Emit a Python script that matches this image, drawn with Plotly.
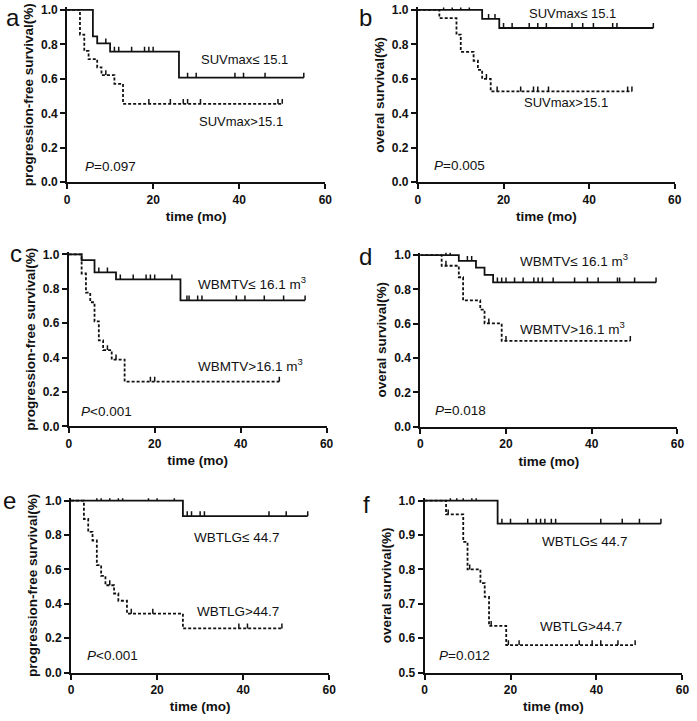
import plotly.graph_objects as go

W, H = 697, 721

# ---------------- data ----------------
time_ticks = [0, 20, 40, 60]
surv_ticks_full = [0.0, 0.2, 0.4, 0.6, 0.8, 1.0]
surv_ticks_f = [0.5, 0.6, 0.7, 0.8, 0.9, 1.0]

# panel a: PFS by SUVmax
a_low_t = [6, 7, 10, 26]
a_low_s = [0.846, 0.806, 0.758, 0.607]
a_low_cens = [9, 11, 12, 15, 18, 19, 20, 28, 30, 39, 41, 46, 55]
a_low_end = 55
a_high_t = [3, 4, 5, 7, 8, 11, 13]
a_high_s = [0.857, 0.762, 0.714, 0.667, 0.622, 0.571, 0.455]
a_high_cens = [9, 19, 24, 27, 28, 31, 49, 50]
a_high_end = 50

# panel b: OS by SUVmax
b_low_t = [15, 19]
b_low_s = [0.948, 0.895]
b_low_cens = [6, 8, 10, 12, 16.5, 18, 20, 22, 26, 28, 30, 36, 38.5, 41, 45.5, 46.5, 55]
b_low_end = 55
b_high_t = [5, 9, 10, 13, 14, 15, 17]
b_high_s = [0.952, 0.857, 0.757, 0.705, 0.652, 0.600, 0.527]
b_high_cens = [16, 18.5, 24, 27, 28, 30.5, 49, 50]
b_high_end = 50

# panel c: PFS by WBMTV
c_low_t = [3, 6, 11, 26]
c_low_s = [0.967, 0.896, 0.855, 0.733]
c_low_cens = [7, 9, 12, 15, 18, 19, 20, 24, 27.5, 28, 30, 31, 39, 41, 45.5, 50, 55]
c_low_end = 55
c_high_t = [3, 4, 5, 6, 7, 8, 10, 13]
c_high_s = [0.889, 0.778, 0.722, 0.611, 0.500, 0.444, 0.389, 0.261]
c_high_cens = [9, 11, 19, 20, 49]
c_high_end = 49

# panel d: OS by WBMTV
d_low_t = [9, 13, 15, 17]
d_low_s = [0.966, 0.927, 0.885, 0.841]
d_low_cens = [6, 7, 11, 12, 18, 19, 20, 22, 24, 26.5, 27.5, 28.5, 31, 36, 39, 41.5, 46, 46.5, 50, 55]
d_low_end = 55
d_high_t = [5, 9, 10, 14, 15, 19]
d_high_s = [0.938, 0.871, 0.736, 0.682, 0.602, 0.500]
d_high_cens = [6, 16, 20, 49]
d_high_end = 49

# panel e: PFS by WBTLG
e_low_t = [26]
e_low_s = [0.910]
e_low_cens = [6, 7, 9, 11, 12, 18, 20, 24, 27, 28, 30, 31, 46, 50, 55]
e_low_end = 55
e_high_t = [3, 4, 5, 6, 7, 8, 10, 11, 13, 26]
e_high_s = [0.893, 0.818, 0.768, 0.625, 0.563, 0.508, 0.460, 0.418, 0.343, 0.257]
e_high_cens = [9, 14, 19, 39, 41, 49]
e_high_end = 49

# panel f: OS by WBTLG
f_low_t = [17]
f_low_s = [0.933]
f_low_cens = [6, 7.5, 9, 11, 12, 18, 20, 24, 26, 27, 28, 29.5, 30.5, 41, 46, 50, 55]
f_low_end = 55
f_high_t = [5, 9, 10, 13, 14, 15, 19]
f_high_s = [0.960, 0.880, 0.800, 0.760, 0.720, 0.636, 0.580]
f_high_cens = [5.5, 10.5, 15.5, 19.5, 22, 36, 39, 41, 45, 49]
f_high_end = 49

# ---------------- styling / layout ----------------
FONT = "Arial, 'Liberation Sans', Helvetica, sans-serif"
INK = "#111111"

panels = [
    dict(letter="a", px=(65, 327, 6, 181), yr=(0.0, 1.0), yt=surv_ticks_full,
         ytitle="progression-free survival(%)",
         low=(a_low_t, a_low_s, a_low_cens, a_low_end),
         high=(a_high_t, a_high_s, a_high_cens, a_high_end),
         letter_pos=(10, 14),
         labels=[("SUVmax≤ 15.1", 199, 56, 13), ("SUVmax>15.1", 197, 119, 13),
                 ("<i>P</i>=0.097", 81, 165, 13.5)]),
    dict(letter="b", px=(421, 681.5, 6, 181), yr=(0.0, 1.0), yt=surv_ticks_full,
         ytitle="overal survival(%)",
         low=(b_low_t, b_low_s, b_low_cens, b_low_end),
         high=(b_high_t, b_high_s, b_high_cens, b_high_end),
         letter_pos=(368, 14),
         labels=[("SUVmax≤ 15.1", 532, 9.5, 13), ("SUVmax>15.1", 527, 100, 13),
                 ("<i>P</i>=0.005", 435, 164, 13.5)]),
    dict(letter="c", px=(66.7, 328.3, 254.3, 429), yr=(0.0, 1.0), yt=surv_ticks_full,
         ytitle="progression-free survival(%)",
         low=(c_low_t, c_low_s, c_low_cens, c_low_end),
         high=(c_high_t, c_high_s, c_high_cens, c_high_end),
         letter_pos=(13, 253),
         labels=[("WBMTV≤ 16.1 m<sup>3</sup>", 196, 283, 13.5), ("WBMTV>16.1 m<sup>3</sup>", 196, 367, 13.5),
                 ("<i>P</i><0.001", 77, 414, 13.5)]),
    dict(letter="d", px=(423.3, 684.3, 255, 429.3), yr=(0.0, 1.0), yt=surv_ticks_full,
         ytitle="overal survival(%)",
         low=(d_low_t, d_low_s, d_low_cens, d_low_end),
         high=(d_high_t, d_high_s, d_high_cens, d_high_end),
         letter_pos=(368, 256),
         labels=[("WBMTV≤ 16.1 m<sup>3</sup>", 523, 260, 13.5), ("WBMTV>16.1 m<sup>3</sup>", 523, 329, 13.5),
                 ("<i>P</i>=0.018", 436, 413, 13.5)]),
    dict(letter="e", px=(69, 331, 504.3, 679), yr=(0.0, 1.0), yt=surv_ticks_full,
         ytitle="progression-free survival(%)",
         low=(e_low_t, e_low_s, e_low_cens, e_low_end),
         high=(e_high_t, e_high_s, e_high_cens, e_high_end),
         letter_pos=(7, 504),
         labels=[("WBTLG≤ 44.7", 192, 542, 13.5), ("WBTLG>44.7", 195, 617, 13.5),
                 ("<i>P</i><0.001", 83, 662, 13.5)]),
    dict(letter="f", px=(427.7, 689.3, 504.3, 679), yr=(0.5, 1.0), yt=surv_ticks_f,
         ytitle="overal survival(%)",
         low=(f_low_t, f_low_s, f_low_cens, f_low_end),
         high=(f_high_t, f_high_s, f_high_cens, f_high_end),
         letter_pos=(369, 508),
         labels=[("WBTLG≤ 44.7", 545, 546, 13.5), ("WBTLG>44.7", 543, 632, 13.5),
                 ("<i>P</i>=0.012", 440, 662, 13.5)]),
]


def surv_at(t, ev_t, ev_s):
    s = 1.0
    for et, es in zip(ev_t, ev_s):
        if et <= t:
            s = es
    return s


fig = go.Figure()
annotations = []
layout_axes = {}

for i, p in enumerate(panels, start=1):
    xname = "x" if i == 1 else f"x{i}"
    yname = "y" if i == 1 else f"y{i}"
    xkey = "xaxis" if i == 1 else f"xaxis{i}"
    ykey = "yaxis" if i == 1 else f"yaxis{i}"

    x0p, x60p, ytop, ybot = p["px"]
    ymin, ymax = p["yr"]
    ppu = (ybot - ytop) / (ymax - ymin)
    pad_px = 2.5
    tick_h = 5.0 / ppu

    for grp, dash in (("low", None), ("high", "3px,2px")):
        ev_t, ev_s, cens, end = p[grp]
        xs = [0] + list(ev_t) + [end]
        ys = [1.0] + list(ev_s) + [ev_s[-1]]
        fig.add_trace(go.Scatter(
            x=xs, y=ys, mode="lines", line_shape="hv",
            line=dict(color=INK, width=1.8, dash=dash),
            xaxis=xname, yaxis=yname, hoverinfo="skip", showlegend=False))
        cx, cy = [], []
        for c in cens:
            s = surv_at(c, ev_t, ev_s)
            cx += [c, c, None]
            cy += [s, s + tick_h, None]
        fig.add_trace(go.Scatter(
            x=cx, y=cy, mode="lines",
            line=dict(color=INK, width=1.5),
            xaxis=xname, yaxis=yname, hoverinfo="skip", showlegend=False))

    layout_axes[xkey] = dict(
        domain=[x0p / W, x60p / W], range=[0, 60], anchor=yname,
        tickvals=time_ticks, ticks="outside", ticklen=5, tickwidth=2, tickcolor=INK,
        showline=True, linecolor=INK, linewidth=2, showgrid=False, zeroline=False,
        tickfont=dict(family=FONT, size=12, color=INK, weight="bold"),
        title=dict(text="time (mo)", standoff=6,
                   font=dict(family=FONT, size=13.5, color=INK, weight="bold")),
    )
    layout_axes[ykey] = dict(
        domain=[1 - ybot / H, 1 - (ytop - pad_px) / H],
        range=[ymin, ymax + pad_px / ppu], anchor=xname,
        tickvals=p["yt"], tickformat=".1f",
        ticks="outside", ticklen=5, tickwidth=2, tickcolor=INK,
        showline=True, linecolor=INK, linewidth=2, showgrid=False, zeroline=False,
        tickfont=dict(family=FONT, size=12, color=INK, weight="bold"),
        title=dict(text=p["ytitle"], standoff=4,
                   font=dict(family=FONT, size=13.5, color=INK, weight="bold")),
    )

    lx, ly = p["letter_pos"]
    annotations.append(dict(text=p["letter"], xref="paper", yref="paper",
                            x=lx / W, y=1 - ly / H, xanchor="center", yanchor="middle",
                            showarrow=False, font=dict(family=FONT, size=24, color=INK)))
    for txt, tx, ty, fs in p["labels"]:
        annotations.append(dict(text=txt, xref="paper", yref="paper",
                                x=tx / W, y=1 - ty / H, xanchor="left", yanchor="middle",
                                showarrow=False,
                                font=dict(family=FONT, size=fs, color=INK)))

fig.update_layout(
    width=W, height=H,
    margin=dict(l=0, r=0, t=0, b=0),
    paper_bgcolor="white", plot_bgcolor="white",
    showlegend=False,
    hovermode=False,
    annotations=annotations,
    **layout_axes,
)

fig.write_html(
    "out.html",
    config={"displayModeBar": False, "staticPlot": True},
    post_script="document.body.style.margin='0px';document.body.style.padding='0px';"
                "document.body.style.overflow='hidden';",
)
